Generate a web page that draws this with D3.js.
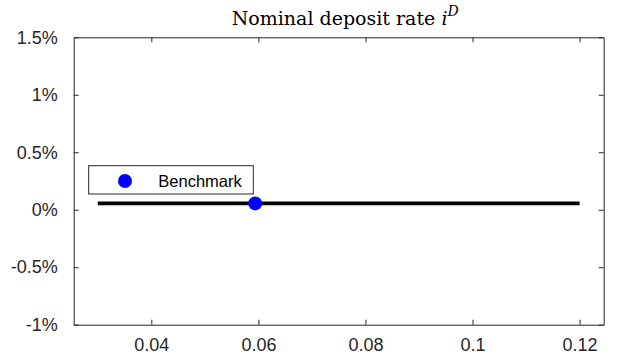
<!DOCTYPE html>
<html>
<head>
<meta charset="utf-8">
<script src="https://cdn.jsdelivr.net/npm/d3@7"></script>
<style>
  html, body { margin: 0; padding: 0; background: #fff; }
  svg { display: block; }
</style>
</head>
<body>
<svg id="chart" width="617" height="362"></svg>
<script>
// Nominal deposit rate across the parameter grid (percent)
const gridX = [0.03, 0.12];
const depositRate = [0.055, 0.055];

// Benchmark calibration point
const benchmarkX = [0.0594];
const benchmarkRate = [0.055];

// Axis ticks
const xTicks = [0.04, 0.06, 0.08, 0.1, 0.12];
const xTickLabels = ["0.04", "0.06", "0.08", "0.1", "0.12"];
const yTicks = [-1, -0.5, 0, 0.5, 1, 1.5];
const yTickLabels = ["-1%", "-0.5%", "0%", "0.5%", "1%", "1.5%"];

const legendLabels = ["Benchmark"];

const svg = d3.select("#chart");
const margin = { left: 73.7, right: 617 - 603.7, top: 37.3, bottom: 362 - 324.7 };
const W = 617, H = 362;
const axisColor = "#262626";

const x = d3.scaleLinear().domain([0.0255, 0.1245]).range([margin.left, W - margin.right]);
const y = d3.scaleLinear().domain([-1, 1.5]).range([H - margin.bottom, margin.top]);

const tickLen = 5;
const tickFont = "'Liberation Sans', Arial, Helvetica, sans-serif";

// Bottom axis (ticks pointing inward)
const gx = svg.append("g").attr("transform", `translate(0,${y.range()[0]})`)
  .call(d3.axisBottom(x).tickValues(xTicks).tickFormat((d, i) => xTickLabels[i])
    .tickSizeInner(-tickLen).tickSizeOuter(0).tickPadding(14));
// Top axis
const gxt = svg.append("g").attr("transform", `translate(0,${y.range()[1]})`)
  .call(d3.axisTop(x).tickValues(xTicks).tickFormat("")
    .tickSizeInner(-tickLen).tickSizeOuter(0));
// Left axis
const gy = svg.append("g").attr("transform", `translate(${x.range()[0]},0)`)
  .call(d3.axisLeft(y).tickValues(yTicks).tickFormat((d, i) => yTickLabels[i])
    .tickSizeInner(-tickLen).tickSizeOuter(0).tickPadding(16));
// Right axis
const gyr = svg.append("g").attr("transform", `translate(${x.range()[1]},0)`)
  .call(d3.axisRight(y).tickValues(yTicks).tickFormat("")
    .tickSizeInner(-tickLen).tickSizeOuter(0));

[gx, gxt, gy, gyr].forEach(g => {
  g.select(".domain").attr("stroke", axisColor).attr("stroke-width", 1);
  g.selectAll(".tick line").attr("stroke", axisColor).attr("stroke-width", 1);
  g.selectAll(".tick text").attr("fill", axisColor)
    .style("font-family", tickFont).style("font-size", "18px");
});

// Deposit rate line
const line = d3.line().x((d, i) => x(gridX[i])).y(d => y(d));
svg.append("path")
  .datum(depositRate)
  .attr("d", line)
  .attr("fill", "none")
  .attr("stroke", "#000")
  .attr("stroke-width", 3.6);

// Benchmark marker
svg.selectAll("circle.bench")
  .data(benchmarkX)
  .join("circle")
  .attr("class", "bench")
  .attr("cx", d => x(d))
  .attr("cy", (d, i) => y(benchmarkRate[i]))
  .attr("r", 7)
  .attr("fill", "#0000ff");

// Legend
const legend = svg.append("g");
legend.append("rect")
  .attr("x", 88.7).attr("y", 165.7)
  .attr("width", 164.6).attr("height", 28.3)
  .attr("fill", "#fff").attr("stroke", axisColor).attr("stroke-width", 1);
legend.append("circle")
  .attr("cx", 125).attr("cy", 181).attr("r", 7).attr("fill", "#0000ff");
legend.append("text")
  .attr("x", 158.3).attr("y", 186.8)
  .attr("fill", "#000")
  .style("font-family", tickFont).style("font-size", "16.5px")
  .text(legendLabels[0]);

// Title
const title = svg.append("text")
  .attr("x", 231.7)
  .attr("y", 25)
  .attr("fill", "#000")
  .style("font-family", "'DejaVu Serif', 'Liberation Serif', serif")
  .style("font-size", "19px");
title.append("tspan").text("Nominal deposit rate ");
title.append("tspan").style("font-style", "italic").text("i");
title.append("tspan").style("font-style", "italic").style("font-size", "14px")
  .attr("dy", -9).text("D");
</script>
</body>
</html>
